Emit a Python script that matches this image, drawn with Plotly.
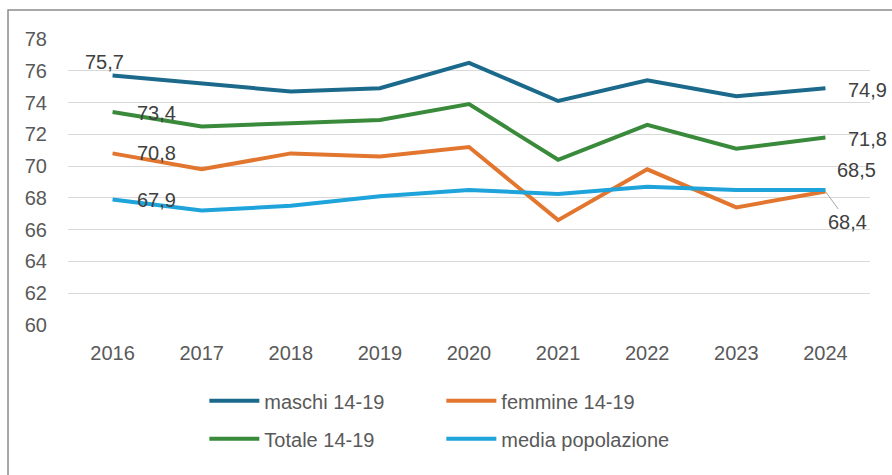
import plotly.graph_objects as go

years = ["2016", "2017", "2018", "2019", "2020", "2021", "2022", "2023", "2024"]
maschi = [75.7, 75.2, 74.7, 74.9, 76.5, 74.1, 75.4, 74.4, 74.9]
femmine = [70.8, 69.8, 70.8, 70.6, 71.2, 66.6, 69.8, 67.4, 68.4]
totale = [73.4, 72.5, 72.7, 72.9, 73.9, 70.4, 72.6, 71.1, 71.8]
media = [67.9, 67.2, 67.5, 68.1, 68.5, 68.25, 68.7, 68.5, 68.5]

names = ["maschi 14-19", "femmine 14-19", "Totale 14-19", "media popolazione"]
colors = ["#1B6A8C", "#E2762F", "#3A8A3C", "#1EA3DB"]
series = [maschi, femmine, totale, media]
legends = ["legend", "legend", "legend2", "legend2"]

fig = go.Figure()
for nm, col, vals, lg in zip(names, colors, series, legends):
    fig.add_trace(go.Scatter(x=years, y=vals, name=nm, mode="lines",
                             line=dict(color=col, width=4), legend=lg,
                             hoverinfo="skip"))

FONT = "Liberation Sans, Arial, sans-serif"
lab_font = dict(family=FONT, size=20, color="#404040")
first, last = 0, len(years) - 1

def lab(i, y, xshift, yshift, xanchor="center"):
    fig.add_annotation(x=i, y=y, text=f"{y:.1f}".replace(".", ","), showarrow=False,
                       xshift=xshift, yshift=yshift, xanchor=xanchor, yanchor="middle",
                       font=lab_font)

lab(first, maschi[0], -8, 14)
lab(first, totale[0], 22, -1, "left")
lab(first, femmine[0], 22, 0, "left")
lab(first, media[0], 22, -1, "left")
lab(last, maschi[-1], 21, -2, "left")
lab(last, totale[-1], 21, -1, "left")
lab(last, media[-1], 31, 20)
fig.add_annotation(x=last, y=femmine[-1], text=f"{femmine[-1]:.1f}".replace(".", ","),
                   showarrow=True, ax=22, ay=30, arrowhead=0, arrowwidth=1,
                   arrowcolor="#A6A6A6", standoff=0, font=lab_font)

tick_font = dict(family=FONT, size=20, color="#595959")

fig.update_layout(
    width=892, height=475,
    margin=dict(l=68, r=22, t=39, b=150),
    paper_bgcolor="white", plot_bgcolor="white",
    separators=",.",
    xaxis=dict(type="category", range=[-0.5, len(years) - 0.5], showgrid=False,
               showline=False, zeroline=False,
               tickfont=tick_font, ticklabelstandoff=14, fixedrange=True),
    yaxis=dict(range=[60, 78], dtick=2, showgrid=True, gridcolor="#D9D9D9", gridwidth=1,
               zeroline=False, showline=False, tickfont=tick_font, ticklabelstandoff=20,
               fixedrange=True),
    legend=dict(orientation="h", x=0.170, xanchor="left", y=-0.265, yanchor="middle",
                entrywidth=172, entrywidthmode="pixels", itemwidth=50,
                font=tick_font, bgcolor="rgba(0,0,0,0)"),
    legend2=dict(orientation="h", x=0.170, xanchor="left", y=-0.398, yanchor="middle",
                 entrywidth=172, entrywidthmode="pixels", itemwidth=50,
                 font=tick_font, bgcolor="rgba(0,0,0,0)"),
    shapes=[dict(type="rect", xref="paper", yref="paper", x0=-0.0748, x1=1.05,
                 y0=-0.54, y1=1.1014, line=dict(color="#8C8C8C", width=1.5),
                 fillcolor="rgba(0,0,0,0)", layer="below")],
)

fig.write_html("out.html", post_script="document.body.style.margin='0';",
               config={"displayModeBar": False})
